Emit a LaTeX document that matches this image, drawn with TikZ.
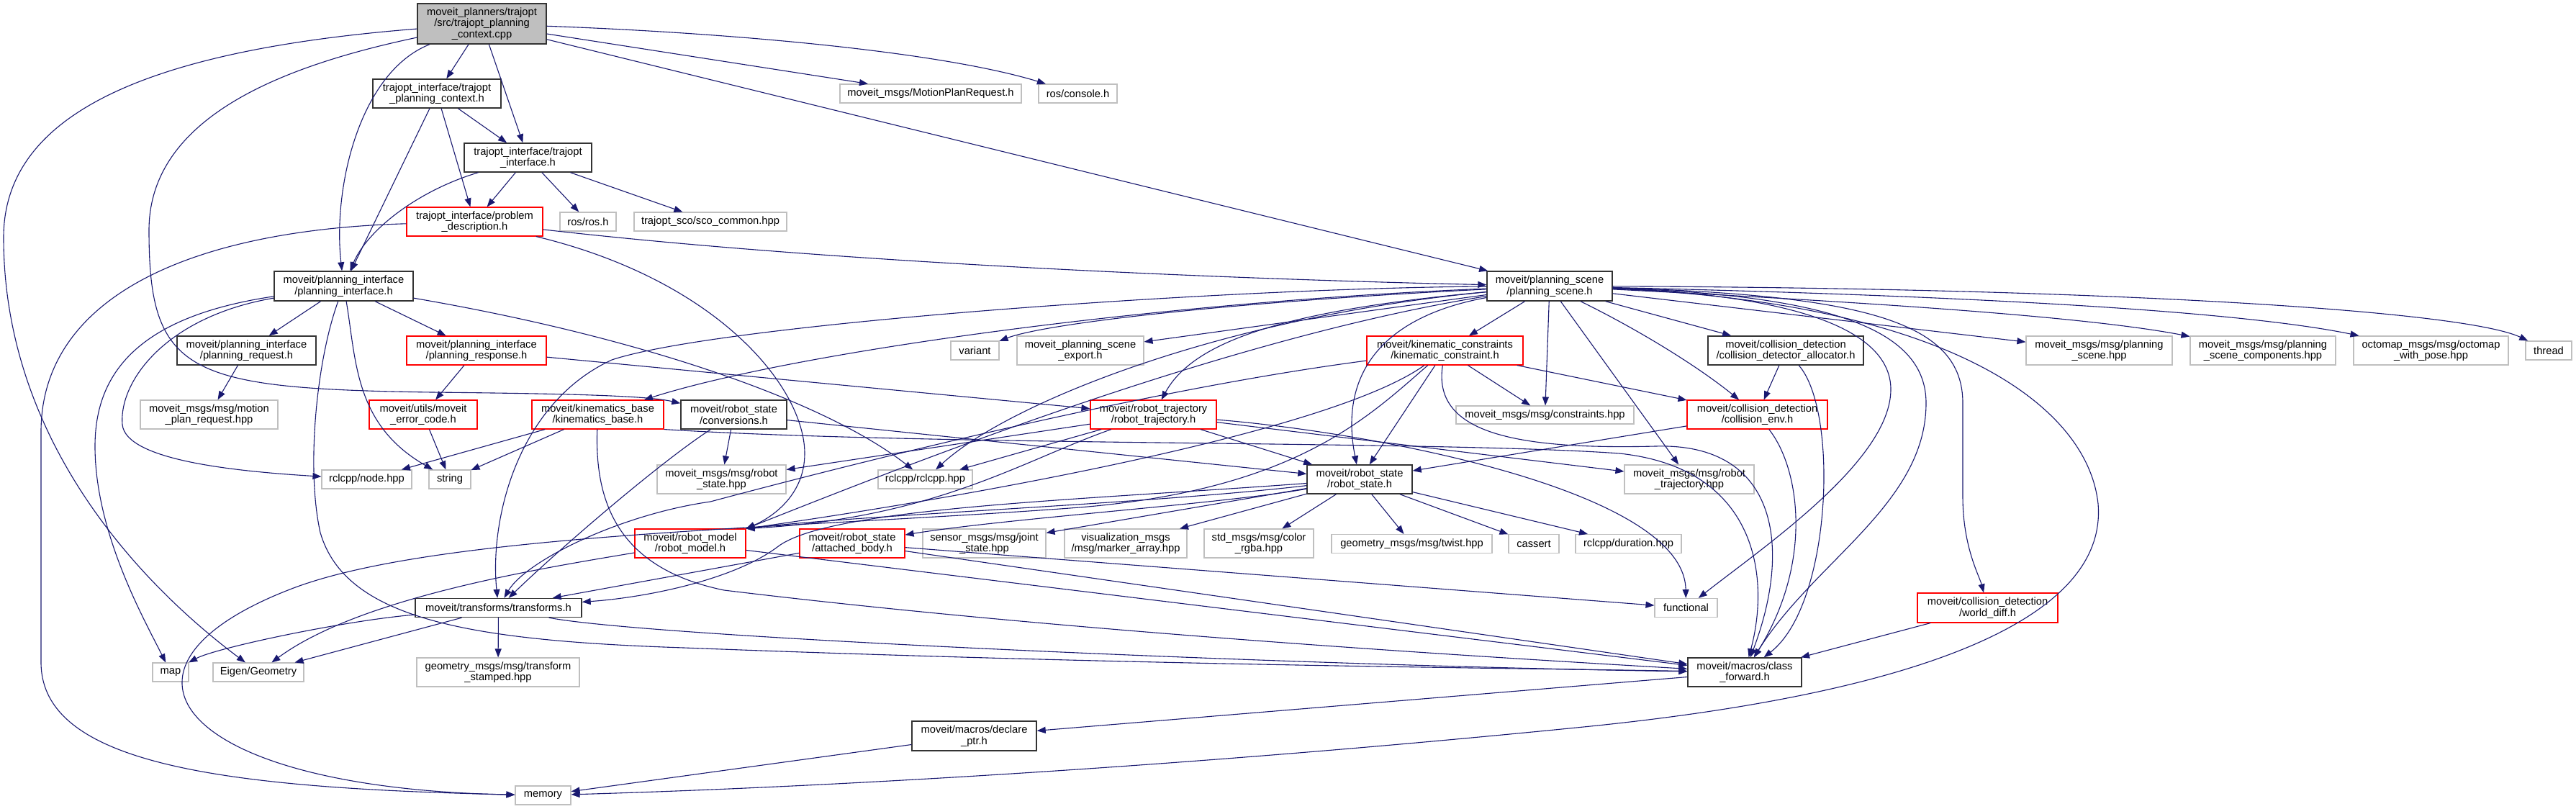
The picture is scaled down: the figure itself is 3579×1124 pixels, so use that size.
\documentclass[tikz,border=0pt]{standalone}
\usepackage{fontspec}
\setmainfont{Liberation Sans}
\usetikzlibrary{arrows.meta}
\definecolor{edgeblue}{HTML}{191970}
\definecolor{nodegray}{HTML}{BFBFBF}
\definecolor{rootgray}{HTML}{BFBFBF}
\newcommand\fs{\fontsize{14.7}{15.5}\selectfont}
\tikzset{
  box/.style={rectangle, inner sep=0pt, align=center, font=\fs, line width=1.1pt},
  sz/.style 2 args={minimum width=#1pt, minimum height=#2pt},
  blk/.style={box, draw=black!80, line width=1.4pt},
  gry/.style={box, draw=nodegray},
  trunc/.style={box, draw=red},
  dep/.style={draw=edgeblue, line width=1.1pt, -{Triangle[length=12pt,width=9pt]}}
}
\begin{document}
\begin{tikzpicture}[x=1pt,y=-1pt]
\fill[white] (0,0) rectangle (3579,1124);
\useasboundingbox (0,0) rectangle (3579,1124);
% nodes
\node[blk,fill=rootgray,sz={179}{56}] (root) at (669.5,33) {moveit\_planners/trajopt\\/src/trajopt\_planning\\\_context.cpp};
\node[blk,sz={178}{40}] (tpc) at (607,130) {trajopt\_interface/trajopt\\\_planning\_context.h};
\node[blk,sz={177}{40}] (ti) at (733.5,219) {trajopt\_interface/trajopt\\\_interface.h};
\node[trunc,sz={189}{40}] (pd) at (659.5,308) {trajopt\_interface/problem\\\_description.h};
\node[gry,sz={78}{26}] (rosros) at (817,308) {ros/ros.h};
\node[gry,sz={212}{26}] (sco) at (987,308) {trajopt\_sco/sco\_common.hpp};
\node[gry,sz={252}{26}] (mprh) at (1293,130) {moveit\_msgs/MotionPlanRequest.h};
\node[gry,sz={109}{26}] (console) at (1497.5,130) {ros/console.h};
\node[blk,sz={193}{41}] (pi) at (477.5,397.5) {moveit/planning\_interface\\/planning\_interface.h};
\node[blk,sz={174}{41}] (ps) at (2153,397.5) {moveit/planning\_scene\\/planning\_scene.h};
\node[blk,sz={193}{40}] (preq) at (342.5,487) {moveit/planning\_interface\\/planning\_request.h};
\node[trunc,sz={194}{40}] (presp) at (662,487) {moveit/planning\_interface\\/planning\_response.h};
\node[gry,sz={67}{26}] (variant) at (1354.5,487) {variant};
\node[gry,sz={176}{40}] (export) at (1501,487) {moveit\_planning\_scene\\\_export.h};
\node[trunc,sz={217}{40}] (kc) at (2007.5,487) {moveit/kinematic\_constraints\\/kinematic\_constraint.h};
\node[blk,sz={216}{40}] (cda) at (2481,487) {moveit/collision\_detection\\/collision\_detector\_allocator.h};
\node[gry,sz={203}{40}] (psh) at (2916.5,487) {moveit\_msgs/msg/planning\\\_scene.hpp};
\node[gry,sz={202}{40}] (psc) at (3144,487) {moveit\_msgs/msg/planning\\\_scene\_components.hpp};
\node[gry,sz={215}{40}] (octo) at (3377.5,487) {octomap\_msgs/msg/octomap\\\_with\_pose.hpp};
\node[gry,sz={64}{26}] (thread) at (3541,487) {thread};
\node[gry,sz={191}{40}] (mpr) at (290.5,576) {moveit\_msgs/msg/motion\\\_plan\_request.hpp};
\node[trunc,sz={150}{40}] (mec) at (588,576) {moveit/utils/moveit\\\_error\_code.h};
\node[trunc,sz={183}{40}] (kb) at (830.5,576) {moveit/kinematics\_base\\/kinematics\_base.h};
\node[blk,sz={147}{40}] (conv) at (1019.5,576) {moveit/robot\_state\\/conversions.h};
\node[trunc,sz={175}{40}] (rt) at (1602.5,576) {moveit/robot\_trajectory\\/robot\_trajectory.h};
\node[gry,sz={247}{25}] (constraints) at (2146.5,576.5) {moveit\_msgs/msg/constraints.hpp};
\node[trunc,sz={195}{40}] (ce) at (2441.5,576) {moveit/collision\_detection\\/collision\_env.h};
\node[gry,sz={125}{26}] (nodehpp) at (509.5,666) {rclcpp/node.hpp};
\node[gry,sz={58}{26}] (string) at (625,666) {string};
\node[gry,sz={179}{40}] (rshpp) at (1002.5,666) {moveit\_msgs/msg/robot\\\_state.hpp};
\node[gry,sz={131}{26}] (rclcpphpp) at (1285.5,666) {rclcpp/rclcpp.hpp};
\node[blk,sz={146}{40}] (rs) at (1889,666) {moveit/robot\_state\\/robot\_state.h};
\node[gry,sz={180}{40}] (rthpp) at (2347,666) {moveit\_msgs/msg/robot\\\_trajectory.hpp};
\node[trunc,sz={154}{40}] (rm) at (959,755) {moveit/robot\_model\\/robot\_model.h};
\node[trunc,sz={146}{40}] (ab) at (1184,755) {moveit/robot\_state\\/attached\_body.h};
\node[gry,sz={171}{40}] (jshpp) at (1367.5,755) {sensor\_msgs/msg/joint\\\_state.hpp};
\node[gry,sz={170}{40}] (marker) at (1564,755) {visualization\_msgs\\/msg/marker\_array.hpp};
\node[gry,sz={152}{40}] (rgba) at (1749,755) {std\_msgs/msg/color\\\_rgba.hpp};
\node[gry,sz={223}{26}] (twist) at (1961.5,755.5) {geometry\_msgs/msg/twist.hpp};
\node[gry,sz={70}{26}] (cassert) at (2131,755.5) {cassert};
\node[gry,sz={147}{26}] (duration) at (2262.5,755.5) {rclcpp/duration.hpp};
\node[blk,sz={231}{26}] (transforms) at (692.5,844.5) {moveit/transforms/transforms.h};
\node[gry,sz={87}{26}] (functional) at (2342.5,844.5) {functional};
\node[trunc,sz={195}{41}] (wd) at (2761.5,844.5) {moveit/collision\_detection\\/world\_diff.h};
\node[gry,sz={50}{26}] (map) at (237,934) {map};
\node[gry,sz={126}{26}] (eigen) at (359,934) {Eigen/Geometry};
\node[gry,sz={226}{40}] (gmts) at (692,934) {geometry\_msgs/msg/transform\\\_stamped.hpp};
\node[blk,sz={158}{40}] (cf) at (2424,934) {moveit/macros/class\\\_forward.h};
\node[blk,sz={173}{41}] (declare) at (1353.5,1022.5) {moveit/macros/declare\\\_ptr.h};
\node[gry,sz={77}{26}] (memory) at (754.5,1105) {memory};
% edges from root
\draw[dep] (root) -- (tpc);
\draw[dep] (root) -- (ti);
\draw[dep] (root) .. controls (500,100) and (462,260) .. (pi);
\draw[dep] (root) .. controls (200,70) and (5,160) .. (5,330) .. controls (5,600) and (180,800) .. (eigen);
\draw[dep] (root) .. controls (400,90) and (207,160) .. (207,320) .. controls (207,520) and (260,540) .. (600,545) .. controls (800,547) and (900,550) .. ([yshift=-5pt]conv.north west);
\draw[dep] (root) -- (mprh);
\draw[dep] (root) .. controls (1000,45) and (1300,70) .. (console);
\draw[dep] (root) -- (ps);
% tpc, ti
\draw[dep] (tpc) -- (pi);
\draw[dep] (tpc) -- (pd);
\draw[dep] (tpc) -- (ti);
\draw[dep] (ti) .. controls (580,265) and (510,320) .. (pi);
\draw[dep] (ti) -- (pd);
\draw[dep] (ti) -- (rosros);
\draw[dep] (ti) -- (sco);
% pd
\draw[dep] (pd) .. controls (250,320) and (57,420) .. (57,600) -- (57,920) .. controls (57,1060) and (300,1095) .. (memory);
\draw[dep] (pd) .. controls (1200,370) and (1800,390) .. (ps);
\draw[dep] (pd) .. controls (1000,390) and (1118,540) .. (1118,630) .. controls (1118,690) and (1070,720) .. (rm.north east);
% pi
\draw[dep] (pi) -- (preq);
\draw[dep] (pi) -- (presp);
\draw[dep] (pi) .. controls (230,440) and (165,530) .. (170,590) .. controls (175,640) and (330,655) .. (nodehpp);
\draw[dep] (pi) .. controls (190,440) and (132,520) .. (132,620) .. controls (132,740) and (200,860) .. (map);
\draw[dep] (pi) .. controls (495,500) and (492,590) .. (string);
\draw[dep] (pi) .. controls (440,500) and (425,650) .. (445,740) .. controls (480,860) and (650,890) .. (950,900) .. controls (1600,925) and (2100,928) .. (cf);
\draw[dep] (pi) .. controls (900,470) and (1150,560) .. (rclcpphpp);
% others
\draw[dep] (preq) -- (mpr);
\draw[dep] (presp) -- (rt);
\draw[dep] (presp) -- (mec);
\draw[dep] (mec) -- (string);
\draw[dep] (kb) -- (nodehpp);
\draw[dep] (kb) -- (string);
\draw[dep] (kb) .. controls (826,700) and (860,790) .. (1006,820) .. controls (1500,880) and (2100,915) .. (cf);
\draw[dep] (kb.south east) .. controls (1300,620) and (2000,612) .. (2250,630) .. controls (2440,650) and (2460,800) .. (cf);
\draw[dep] (conv) -- (rshpp);
\draw[dep] (conv) .. controls (920,640) and (780,760) .. (transforms);
\draw[dep] (conv) -- (rs);
% rt
\draw[dep] (rt) -- (rshpp);
\draw[dep] (rt) -- (rclcpphpp);
\draw[dep] (rt) .. controls (1420,640) and (1300,720) .. (rm.north east);
\draw[dep] (rt) -- (rs);
\draw[dep] (rt) -- (rthpp);
\draw[dep] (rt) .. controls (1900,600) and (2340,680) .. (functional);
% ps
\draw[dep] (ps) -- (kc);
\draw[dep] (ps) -- (constraints);
\draw[dep] (ps) -- (rthpp);
\draw[dep] (ps) .. controls (2280,460) and (2360,510) .. (ce);
\draw[dep] (ps) -- (cda);
\draw[dep] (ps) .. controls (1920,440) and (1860,520) .. (rs);
\draw[dep] (ps) .. controls (1700,470) and (1250,650) .. (rm.north east);
\draw[dep] (ps) .. controls (1700,400) and (1000,450) .. (850,500) .. controls (720,560) and (680,720) .. (transforms);
\draw[dep] (ps) .. controls (1600,420) and (1100,490) .. (kb);
\draw[dep] (ps) .. controls (1800,430) and (1660,470) .. (rt);
\draw[dep] (ps) -- (export);
\draw[dep] (ps) .. controls (1700,420) and (1450,450) .. (variant);
\draw[dep] (ps) .. controls (1700,440) and (1400,560) .. (rclcpphpp);
\draw[dep] (ps) .. controls (2550,410) and (2676,460) .. (2676,560) .. controls (2676,700) and (2520,780) .. (cf);
\draw[dep] (ps) .. controls (2500,410) and (2627,460) .. (2627,541) .. controls (2627,640) and (2450,760) .. (functional);
\draw[dep] (ps) .. controls (2600,410) and (2727,450) .. (2727,560) -- (2727,690) .. controls (2727,760) and (2750,800) .. (wd);
\draw[dep] (ps) .. controls (2700,420) and (2900,560) .. (2915,700) .. controls (2930,880) and (2600,970) .. (2200,1010) .. controls (1600,1070) and (1100,1095) .. (memory);
\draw[dep] (ps) -- (psh);
\draw[dep] (ps) .. controls (2600,420) and (2900,440) .. (psc);
\draw[dep] (ps) .. controls (2700,410) and (3100,430) .. (octo);
\draw[dep] (ps) .. controls (2900,400) and (3420,430) .. (thread);
% kc
\draw[dep] (kc) -- (rs);
\draw[dep] (kc) -- (constraints);
\draw[dep] (kc) -- (ce);
\draw[dep] (kc) .. controls (1990,600) and (2100,625) .. (2300,620) .. controls (2470,615) and (2490,760) .. (cf);
\draw[dep] (kc) .. controls (1600,540) and (1200,640) .. (987,697) .. controls (860,715) and (730,780) .. (transforms);
\draw[dep] (kc) .. controls (1900,580) and (1800,680) .. (1500,705) .. controls (1100,735) and (600,740) .. (400,820) .. controls (120,930) and (250,1095) .. (memory);
\draw[dep] (kc) .. controls (1850,600) and (1350,690) .. (rm.north east);
% cda, ce, wd
\draw[dep] (cda) -- (ce);
\draw[dep] (cda) .. controls (2555,571) and (2545,840) .. (cf);
\draw[dep] (ce) -- (rs);
\draw[dep] (ce) .. controls (2500,650) and (2520,780) .. (cf);
\draw[dep] (wd) -- (cf);
% rs
\draw[dep] (rs) .. controls (1600,700) and (1200,715) .. (rm.north east);
\draw[dep] (rs) .. controls (1700,700) and (1400,720) .. (ab);
\draw[dep] (rs) -- (jshpp);
\draw[dep] (rs) -- (marker);
\draw[dep] (rs) -- (rgba);
\draw[dep] (rs) -- (twist);
\draw[dep] (rs) -- (cassert);
\draw[dep] (rs) -- (duration);
\draw[dep] (rs) .. controls (1500,695) and (1150,705) .. (1080,760) .. controls (1020,805) and (900,830) .. (transforms);
% rm, ab
\draw[dep] (rm) .. controls (750,790) and (500,830) .. (eigen);
\draw[dep] (rm) -- (cf);
\draw[dep] (ab) -- (transforms);
\draw[dep] (ab) -- (functional);
\draw[dep] (ab) -- (cf);
% transforms
\draw[dep] (transforms) .. controls (480,862) and (300,900) .. (map);
\draw[dep] (transforms) -- (eigen);
\draw[dep] (transforms) -- (gmts);
\draw[dep] (transforms) .. controls (900,885) and (1800,925) .. (cf);
\draw[dep] (cf) -- (declare);
\draw[dep] (declare) -- (memory);
\end{tikzpicture}
\end{document}
